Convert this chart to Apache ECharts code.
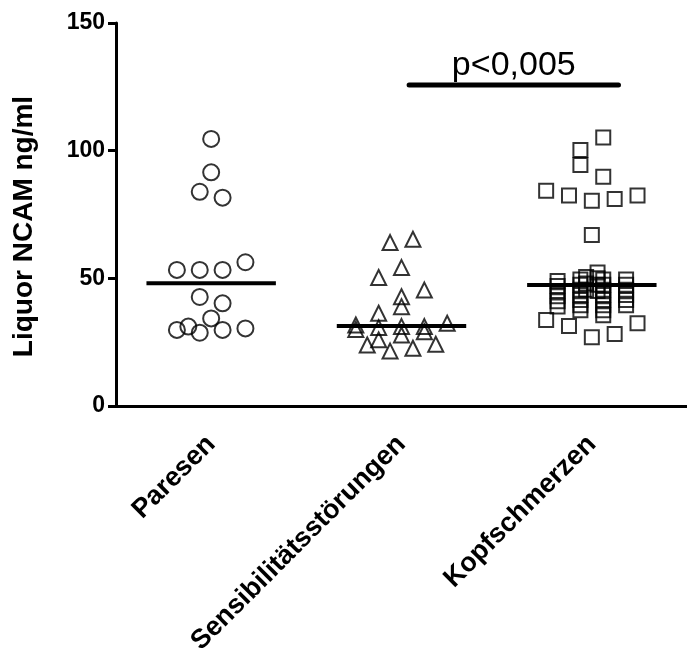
<!DOCTYPE html>
<html>
<head>
<meta charset="utf-8">
<script src="https://cdn.jsdelivr.net/npm/echarts@6/dist/echarts.min.js"></script>
<style>html,body{margin:0;padding:0;background:#fff}#c{width:687px;height:666px}</style>
</head>
<body>
<div id="c"></div>
<script>
// ---- data ----
const categories = ['Paresen', 'Sensibilitätsstörungen', 'Kopfschmerzen'];

// Paresen (circles): values and horizontal jitter (category units)
const paresenValues  = [104.6, 91.5, 83.9, 81.6, 56.3, 53.3, 53.3, 53.3, 42.7, 40.2, 34.3, 31.1, 29.8, 28.7, 29.8, 30.4];
const paresenJitter  = [0, 0, -0.06, 0.06, 0.18, -0.18, -0.06, 0.06, -0.06, 0.06, 0, -0.12, -0.18, -0.06, 0.06, 0.18];

// Sensibilitätsstörungen (triangles)
const sensValues = [64.0, 65.3, 54.2, 50.3, 45.4, 42.8, 38.9, 36.3, 31.7, 30.0, 30.7, 25.9, 23.9, 21.5, 31.1, 27.8, 22.6, 31.1, 29.1, 24.2, 32.4];
const sensJitter = [-0.06, 0.06, 0, -0.12, 0.12, 0, 0, -0.12, -0.24, -0.24, -0.12, -0.12, -0.18, -0.06, 0, 0, 0.06, 0.12, 0.12, 0.18, 0.24];

// Kopfschmerzen (squares)
const kopfValues = [105.2, 100.3, 94.4, 89.8, 84.3, 82.4, 80.4, 81.1, 82.4, 67.0,
                    33.7, 31.3, 26.9, 28.2, 32.4,
                    49.0, 47.0, 45.0, 43.0, 41.0, 39.0,
                    49.5, 47.5, 45.5, 43.5, 41.5, 39.5, 37.5,
                    50.5, 48.0, 45.5,
                    52.3, 50.0, 47.5, 45.0,
                    49.5, 47.5, 45.5, 43.5, 41.5, 39.5, 37.5, 35.5,
                    49.5, 47.5, 45.5, 43.5, 41.5, 39.5];
const kopfJitter = [0.06, -0.06, -0.06, 0.06, -0.24, -0.12, 0, 0.12, 0.24, 0,
                    -0.24, -0.12, 0, 0.12, 0.24,
                    -0.18, -0.18, -0.18, -0.18, -0.18, -0.18,
                    -0.06, -0.06, -0.06, -0.06, -0.06, -0.06, -0.06,
                    -0.03, -0.03, -0.03,
                    0.03, 0.03, 0.03, 0.03,
                    0.06, 0.06, 0.06, 0.06, 0.06, 0.06, 0.06, 0.06,
                    0.18, 0.18, 0.18, 0.18, 0.18, 0.18];

const medians = [48.1, 31.3, 47.4];
const yTicks = [0, 50, 100, 150];
const sigText = 'p<0,005';
const sigLevel = 125.7;
const sigFrom = 1.04, sigTo = 2.14;

// ---- chart ----
const chart = echarts.init(document.getElementById('c'), null, {renderer: 'canvas'});
const FONT = 'Liberation Sans, Arial, Helvetica, sans-serif';
const groups = [
  {vals: paresenValues, jit: paresenJitter, symbol: 'circle', size: 16},
  {vals: sensValues, jit: sensJitter, symbol: 'triangle', size: 15},
  {vals: kopfValues, jit: kopfJitter, symbol: 'rect', size: 14}
];
const series = [];
groups.forEach((g, i) => {
  series.push({
    type: 'scatter', xAxisIndex: 1, symbol: g.symbol, symbolSize: g.size,
    itemStyle: {color: 'rgba(0,0,0,0)', borderColor: '#000', borderWidth: 2},
    data: g.vals.map((v, k) => [i + g.jit[k], v]), z: 3, silent: true
  });
  series.push({
    type: 'line', xAxisIndex: 1, symbol: 'none',
    lineStyle: {color: '#000', width: 4},
    data: [[i - 0.34, medians[i]], [i + 0.34, medians[i]]], z: 4, silent: true
  });
});
series.push({
  type: 'line', xAxisIndex: 1, symbol: 'none',
  lineStyle: {color: '#000', width: 5, cap: 'round'},
  data: [[sigFrom, sigLevel], [sigTo, sigLevel]], z: 4, silent: true
});
series.push({
  type: 'scatter', xAxisIndex: 1, symbolSize: 0,
  itemStyle: {opacity: 1},
  label: {show: true, position: 'top', distance: 2, formatter: sigText,
          fontSize: 34, fontFamily: FONT, color: '#000', opacity: 1, textBorderWidth: 0},
  data: [[(sigFrom + sigTo) / 2, sigLevel]], silent: true
});

chart.setOption({
  animation: false,
  backgroundColor: '#fff',
  grid: {left: 116, top: 23, width: 578, height: 383},
  xAxis: [{
    type: 'category', data: categories, boundaryGap: true,
    axisLine: {lineStyle: {color: '#000', width: 3}},
    axisTick: {alignWithLabel: true, length: 14, lineStyle: {color: '#000', width: 3}},
    axisLabel: {rotate: 45, margin: 34, fontSize: 27, fontWeight: 'bold', fontFamily: FONT, color: '#000', interval: 0},
    splitLine: {show: false}
  }, {
    type: 'value', min: -0.5, max: 2.5, show: false
  }],
  yAxis: {
    type: 'value', min: 0, max: 150, interval: 50,
    name: 'Liquor NCAM ng/ml', nameLocation: 'middle', nameGap: 78, nameRotate: 90,
    nameTextStyle: {fontSize: 28, fontWeight: 'bold', fontFamily: FONT, color: '#000', padding: [0, 24, 0, 0]},
    axisLine: {show: true, onZero: false, lineStyle: {color: '#000', width: 3}},
    axisTick: {show: true, length: 8, lineStyle: {color: '#000', width: 3}},
    axisLabel: {margin: 11, fontSize: 23, fontWeight: 'bold', fontFamily: FONT, color: '#000',
                customValues: yTicks},
    splitLine: {show: false}
  },
  series: series
});
</script>
</body>
</html>
